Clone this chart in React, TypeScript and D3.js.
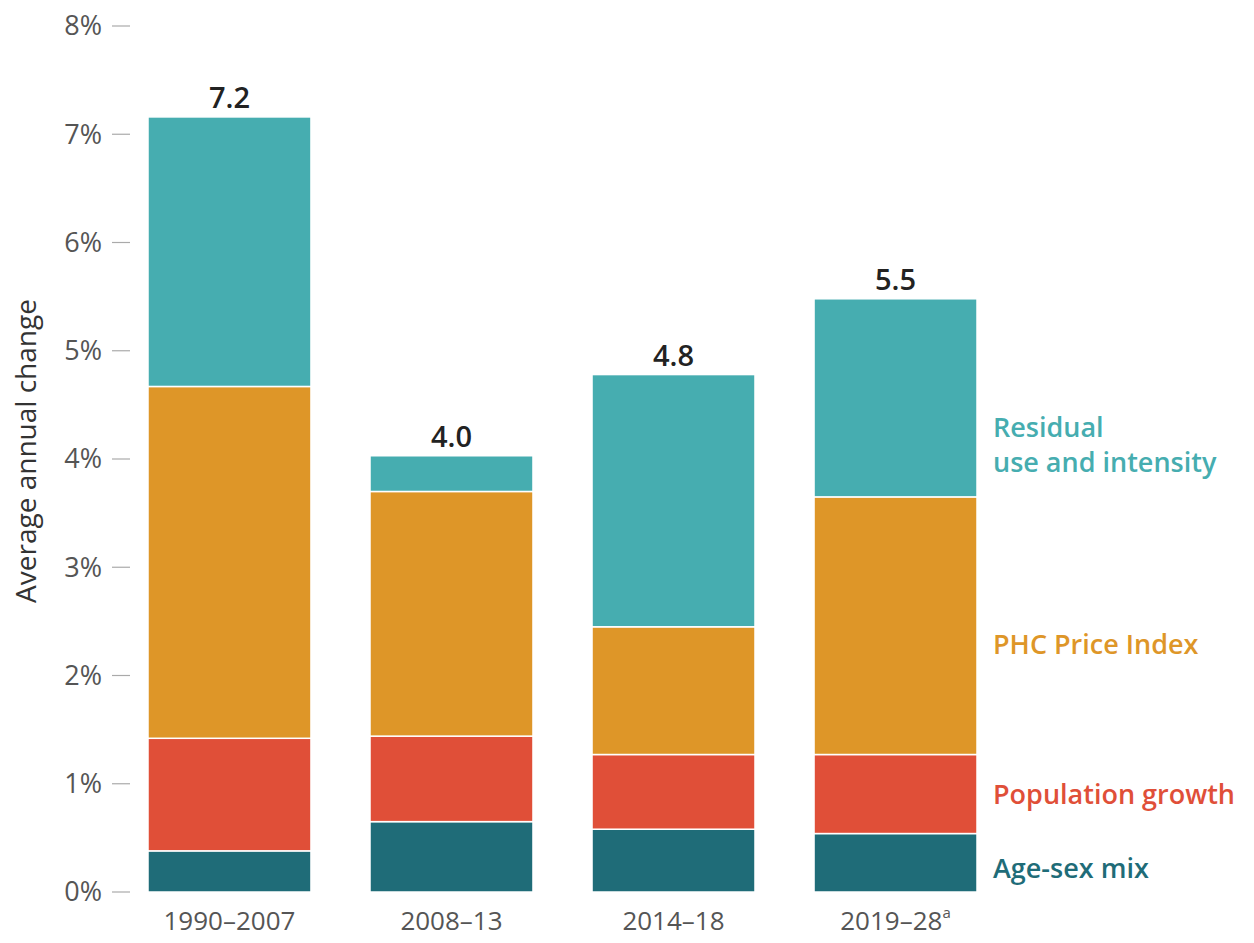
import React, { useEffect, useRef } from "react";
import * as d3 from "d3";

const categories = ["1990–2007", "2008–13", "2014–18", "2019–28"];
const totals = ["7.2", "4.0", "4.8", "5.5"];
const ageSex = [0.38, 0.65, 0.58, 0.54];
const population = [1.04, 0.79, 0.69, 0.73];
const phcPrice = [3.25, 2.26, 1.18, 2.38];
const residual = [2.49, 0.33, 2.33, 1.83];
const yTicks = [0, 1, 2, 3, 4, 5, 6, 7, 8];

const seriesKeys = ["age", "pop", "phc", "res"];
const colors: Record<string, string> = {
  age: "#1f6c78",
  pop: "#e04f38",
  phc: "#de9628",
  res: "#46adb0",
};

const width = 1254;
const height = 943;
const margin = { top: 26, bottom: 51 };

const draw = (node: SVGSVGElement) => {
  const svg = d3.select(node);
  svg.selectAll("*").remove();
  const font = "'Open Sans', sans-serif";

  const rows = categories.map((c, i) => ({
    cat: c,
    age: ageSex[i],
    pop: population[i],
    phc: phcPrice[i],
    res: residual[i],
  }));

  const x = d3
    .scaleBand()
    .domain(categories)
    .range([148, 977])
    .paddingInner(0.266)
    .paddingOuter(0);
  const y = d3
    .scaleLinear()
    .domain([0, 8])
    .range([height - margin.bottom, margin.top]);

  const stack = d3.stack<any>().keys(seriesKeys)(rows);

  const yAxis = svg.append("g");
  yAxis
    .selectAll("line")
    .data(yTicks)
    .enter()
    .append("line")
    .attr("x1", 112)
    .attr("x2", 130)
    .attr("y1", (d) => y(d))
    .attr("y2", (d) => y(d))
    .attr("stroke", "#aaa")
    .attr("stroke-width", 1.2);
  yAxis
    .selectAll("text")
    .data(yTicks)
    .enter()
    .append("text")
    .attr("x", 102)
    .attr("y", (d) => y(d))
    .attr("dy", "0.35em")
    .attr("text-anchor", "end")
    .attr("font-family", font)
    .attr("font-size", 27)
    .attr("fill", "#555")
    .text((d) => d + "%");

  svg
    .append("text")
    .attr("transform", `translate(36,${451}) rotate(-90)`)
    .attr("text-anchor", "middle")
    .attr("font-family", font)
    .attr("font-size", 28)
    .attr("font-weight", 500)
    .attr("fill", "#333")
    .text("Average annual change");

  svg
    .append("g")
    .selectAll("g")
    .data(stack)
    .enter()
    .append("g")
    .attr("fill", (d) => colors[d.key])
    .selectAll("rect")
    .data((d) => d)
    .enter()
    .append("rect")
    .attr("x", (d: any) => x(d.data.cat)!)
    .attr("width", x.bandwidth())
    .attr("y", (d) => y(d[1]))
    .attr("height", (d) => y(d[0]) - y(d[1]))
    .attr("stroke", "#fff")
    .attr("stroke-width", 1.5);

  const top = stack[stack.length - 1];
  svg
    .append("g")
    .selectAll("text")
    .data(top)
    .enter()
    .append("text")
    .attr("x", (d: any) => x(d.data.cat)! + x.bandwidth() / 2)
    .attr("y", (d) => y(d[1]) - 9)
    .attr("text-anchor", "middle")
    .attr("font-family", font)
    .attr("font-size", 29)
    .attr("font-weight", 600)
    .attr("fill", "#222")
    .text((d, i) => totals[i]);

  const xl = svg
    .append("g")
    .selectAll("text")
    .data(categories)
    .enter()
    .append("text")
    .attr("x", (d) => x(d)! + x.bandwidth() / 2)
    .attr("y", y(0) + 38)
    .attr("text-anchor", "middle")
    .attr("font-family", font)
    .attr("font-size", 26)
    .attr("fill", "#555")
    .text((d) => d);
  xl.filter((d, i) => i === 3)
    .append("tspan")
    .attr("dy", -12)
    .attr("font-size", 15)
    .text("a");

  const lastCat = categories[categories.length - 1];
  const lx = x(lastCat)! + x.bandwidth() + 16;
  const legend = [
    { key: "res", lines: ["Residual", "use and intensity"], at: 4.2 },
    { key: "phc", lines: ["PHC Price Index"], at: 2.2 },
    { key: "pop", lines: ["Population growth"], at: 0.81 },
    { key: "age", lines: ["Age-sex mix"], at: 0.13 },
  ];
  legend.forEach((l) => {
    l.lines.forEach((t, j) => {
      svg
        .append("text")
        .attr("x", lx)
        .attr("y", y(l.at) + j * 35)
        .attr("font-family", font)
        .attr("font-size", 27)
        .attr("font-weight", 600)
        .attr("fill", colors[l.key])
        .text(t);
    });
  });
};

const App = () => {
  const ref = useRef<SVGSVGElement>(null);
  useEffect(() => {
    if (ref.current) draw(ref.current);
  }, []);
  return (
    <svg
      ref={ref}
      width={width}
      height={height}
      style={{ position: "absolute", left: 0, top: 0, background: "#fff" }}
    />
  );
};

export default App;
